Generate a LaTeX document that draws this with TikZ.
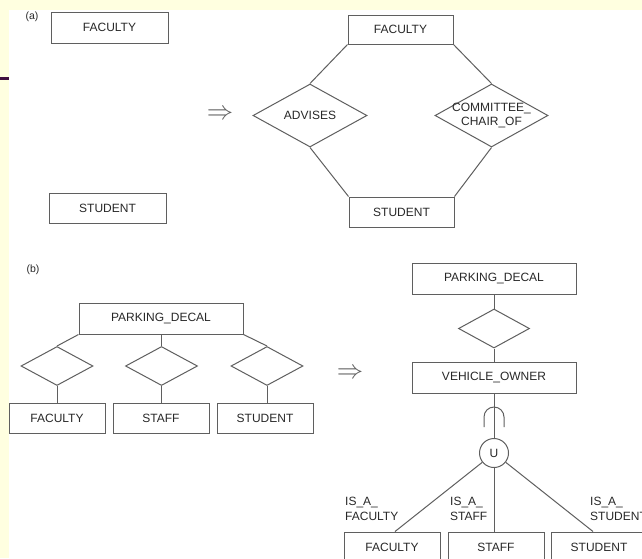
\documentclass[tikz,border=0pt]{standalone}
\usepackage{fontspec}
\setmainfont{Liberation Sans}
\usetikzlibrary{shapes.geometric}
\definecolor{slidebg}{RGB}{255,255,224}
\definecolor{slidebar}{RGB}{64,16,64}
\definecolor{ink}{RGB}{95,95,95}
\definecolor{txt}{RGB}{40,40,40}

\begin{document}
\begin{tikzpicture}[x=1pt,y=-1pt,
  every node/.style={inner sep=0pt, text=txt, font=\fontsize{12}{14.5}\selectfont},
  entity/.style={draw=ink, line width=1pt, rectangle, minimum width=#1, minimum height=30pt},
  entity/.default=96pt,
  rel/.style={draw=ink, line width=1pt, diamond},
  conn/.style={draw=ink, line width=1pt},
  tag/.style={font=\fontsize{10.5}{12}\selectfont},
  isa/.style={align=left, anchor=north west},
  implies/.style={scale=2.2, text=ink}]

% page frame
\useasboundingbox (0,0) rectangle (642,558);
\clip (0,0) rectangle (642,558);
\fill[slidebg] (0,0) rectangle (642,558);
\fill[white] (9,10) rectangle (642,558);
\fill[slidebar] (0,77) rectangle (9,80);

% ---------- (a) ----------
\node[tag] (la) at (32,17) {(a)};
\node[entity=117pt, minimum height=31pt] (fa1) at (109.5,27.5) {FACULTY};
\node[entity=117pt] (st1) at (107.5,208) {STUDENT};
\node[implies] (impa) at (220,114.5) {$\Rightarrow$};

\node[entity=105pt, minimum height=29pt] (fa2) at (400.5,29.5) {FACULTY};
\node[entity=105pt] (st2) at (401.5,212) {STUDENT};
\node[rel, minimum width=114pt, minimum height=63pt, label=center:ADVISES] (adv) at (310,115.5) {};
\node[rel, minimum width=113pt, minimum height=63pt,
      label={[align=center]center:COMMITTEE\_\\CHAIR\_OF}] (cco) at (491.5,115.5) {};

\draw[conn] (fa2.south west) -- (adv.north);
\draw[conn] (fa2.south east) -- (cco.north);
\draw[conn] (adv.south) -- (st2.north west);
\draw[conn] (cco.south) -- (st2.north east);

% ---------- (b) ----------
\node[tag] (lb) at (33,270) {(b)};
\node[entity=164pt, minimum height=31pt] (pd1) at (161,318.5) {PARKING\_DECAL};
\node[rel, minimum width=72pt, minimum height=39pt] (r1) at (57,366) {};
\node[rel, minimum width=72pt, minimum height=39pt] (r2) at (161.5,366) {};
\node[rel, minimum width=72pt, minimum height=39pt] (r3) at (267,366) {};
\node[entity] (fb1) at (57,418) {FACULTY};
\node[entity] (sb1) at (161,418) {STAFF};
\node[entity] (tb1) at (265,418) {STUDENT};

\draw[conn] (pd1.south west) -- (r1.north);
\draw[conn] (pd1.south -| r2.north) -- (r2.north);
\draw[conn] (pd1.south east) -- (r3.north);
\draw[conn] (r1.south) -- (r1.south |- fb1.north);
\draw[conn] (r2.south) -- (r2.south |- sb1.north);
\draw[conn] (r3.south) -- (r3.south |- tb1.north);

\node[implies] (impb) at (350,374) {$\Rightarrow$};

\node[entity=164pt, minimum height=31pt] (pd2) at (494,278.5) {PARKING\_DECAL};
\node[rel, minimum width=71pt, minimum height=39pt] (rv) at (494,328.5) {};
\node[entity=164pt, minimum height=31pt] (vo) at (494,377.5) {VEHICLE\_OWNER};
\node[circle, draw=ink, line width=1pt, minimum size=29pt] (un) at (494,453) {U};
\node[entity] (fb2) at (392,547) {FACULTY};
\node[entity] (sb2) at (496,547) {STAFF};
\node[entity] (tb2) at (599,547) {STUDENT};

\draw[conn] (pd2) -- (rv);
\draw[conn] (rv) -- (vo);
\draw[conn] (vo) -- (un);
% subset mark on the VEHICLE_OWNER link
\coordinate (sub) at (494,417);
\draw[conn] (sub) ++(-10,10) -- ++(0,-10) arc[start angle=180, end angle=0, radius=10pt] -- ++(0,10);
\draw[conn] (un) -- ([xshift=3pt]fb2.north);
\draw[conn] (un) -- (un |- sb2.north);
\draw[conn] (un) -- ([xshift=-6pt]tb2.north);

\node[isa] (ifa) at (345,497) {IS\_A\_\\FACULTY};
\node[isa] (ist) at (450,497) {IS\_A\_\\STAFF};
\node[isa] (isu) at (590,497) {IS\_A\_\\STUDENT};
\end{tikzpicture}
\end{document}
